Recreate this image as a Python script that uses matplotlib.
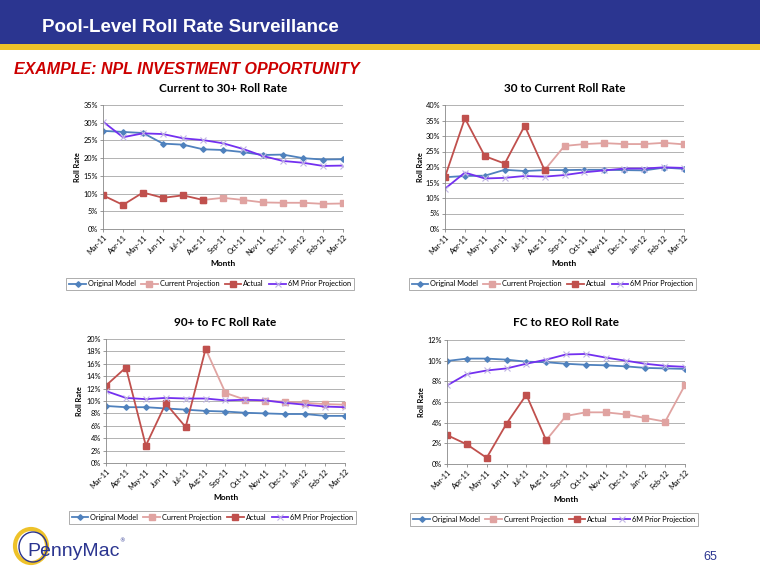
import matplotlib.pyplot as plt
from matplotlib.patches import Rectangle, Ellipse
from matplotlib.ticker import PercentFormatter

months = ['Mar-11', 'Apr-11', 'May-11', 'Jun-11', 'Jul-11', 'Aug-11', 'Sep-11',
          'Oct-11', 'Nov-11', 'Dec-11', 'Jan-12', 'Feb-12', 'Mar-12']

# Current to 30+
c30_original = [27.7, 27.4, 27.1, 24.1, 23.8, 22.5, 22.3, 21.7, 20.9, 21.0, 20.0, 19.6, 19.7]
c30_prior6m = [30.3, 25.9, 27.0, 26.8, 25.6, 25.1, 24.2, 22.6, 20.6, 19.2, 18.7, 17.8, 17.9]
c30_actual = [9.5, 6.8, 10.3, 8.8, 9.5, 8.2]
c30_current = [8.2, 8.8, 8.2, 7.5, 7.4, 7.4, 7.1, 7.2]

# 30 to Current
r30_original = [16.7, 17.1, 17.2, 19.1, 18.7, 19.0, 19.0, 19.1, 19.1, 19.0, 18.9, 19.8, 19.4]
r30_prior6m = [13.0, 18.2, 16.3, 16.5, 17.1, 16.9, 17.4, 18.3, 18.9, 19.5, 19.5, 19.9, 19.7]
r30_actual = [16.8, 35.7, 23.5, 21.1, 33.3, 19.0]
r30_current = [19.0, 26.8, 27.4, 27.7, 27.4, 27.4, 27.8, 27.3]

# 90+ to FC
fc90_original = [9.2, 9.0, 9.0, 8.8, 8.6, 8.4, 8.3, 8.1, 8.0, 7.9, 7.9, 7.6, 7.6]
fc90_prior6m = [11.6, 10.5, 10.3, 10.5, 10.4, 10.4, 10.1, 10.2, 10.1, 9.7, 9.4, 9.1, 9.0]
fc90_actual = [12.5, 15.4, 2.8, 9.6, 5.8, 18.4]
fc90_current = [18.4, 11.3, 10.2, 10.0, 9.9, 9.7, 9.5, 9.4]

# FC to REO
reo_original = [9.97, 10.2, 10.2, 10.1, 9.9, 9.85, 9.7, 9.6, 9.55, 9.45, 9.3, 9.25, 9.2]
reo_prior6m = [7.6, 8.7, 9.05, 9.25, 9.7, 10.1, 10.6, 10.65, 10.3, 10.0, 9.7, 9.5, 9.4]
reo_actual = [2.8, 1.9, 0.6, 3.9, 6.7, 2.3]
reo_current = [2.3, 4.65, 5.0, 5.0, 4.8, 4.45, 4.1, 7.65]

blue = '#4F81BD'
pink = '#E0A3A1'
red = '#C0504D'
purple = '#7330F0'
navy = '#2B3590'
font = ['Lato', 'DejaVu Sans']

fig = plt.figure(figsize=(7.6, 5.87), dpi=100)
W, H = 760, 587


def fx(x):
    return x / W


def fy(y):
    return 1 - y / H


# header
fig.patches.append(Rectangle((0, fy(44)), 1, 44 / H, transform=fig.transFigure,
                             facecolor=navy, edgecolor='none'))
fig.patches.append(Rectangle((0, fy(50)), 1, 6 / H, transform=fig.transFigure,
                             facecolor='#EEC22A', edgecolor='none'))
fig.text(fx(42), fy(27), 'Pool-Level Roll Rate Surveillance', color='white',
         fontsize=13.5, fontweight='bold', family='Liberation Sans', va='center')
fig.text(fx(14), fy(70), 'EXAMPLE: NPL INVESTMENT OPPORTUNITY', color='#CC0000',
         fontsize=11.5, fontweight='bold', style='italic', family='Liberation Sans',
         va='center')

charts = [
    ('Current to 30+ Roll Rate', c30_original, c30_current, c30_actual, c30_prior6m,
     35, 5, (103, 105, 343, 229), 78, 263, (67, 276, 353, 292)),
    ('30 to Current Roll Rate', r30_original, r30_current, r30_actual, r30_prior6m,
     40, 5, (445, 105, 684, 229), 420, 263, (410, 276, 695, 292)),
    ('90+ to FC Roll Rate', fc90_original, fc90_current, fc90_actual, fc90_prior6m,
     20, 2, (106, 339, 345, 463), 80, 497, (71, 510, 354, 525)),
    ('FC to REO Roll Rate', reo_original, reo_current, reo_actual, reo_prior6m,
     12, 2, (447, 340, 685, 464), 421, 499, (412, 512, 696, 527)),
]

x = list(range(len(months)))
for title, orig, cur, act, prior, ymax, step, box, ylx, mly, lbox in charts:
    x0, y0, x1, y1 = box
    ax = fig.add_axes([fx(x0), fy(y1), (x1 - x0) / W, (y1 - y0) / H])
    l1, = ax.plot(x, orig, color=blue, lw=1.3, marker='D', ms=2.8, label='Original Model')
    l2, = ax.plot(x[5:], cur, color=pink, lw=1.3, marker='s', ms=4.5,
                  label='Current Projection')
    l3, = ax.plot(x[:6], act, color=red, lw=1.3, marker='s', ms=4.5, label='Actual')
    l4, = ax.plot(x, prior, color=purple, lw=1.3, marker='x', ms=4, mew=0.8,
                  mec='#C0B4E4', label='6M Prior Projection')
    ax.set_xlim(0, 12)
    ax.set_ylim(0, ymax)
    ax.set_yticks(range(0, ymax + 1, step))
    ax.yaxis.set_major_formatter(PercentFormatter(decimals=0))
    ax.set_xticks(x)
    ax.set_xticklabels(months, rotation=45, ha='right', rotation_mode='anchor')
    ax.tick_params(labelsize=5.3, length=2, width=0.6, color='#888888', pad=1.5)
    for t in ax.get_xticklabels() + ax.get_yticklabels():
        t.set_family(font)
    ax.grid(axis='y', color='#A6A6A6', lw=0.6)
    ax.set_axisbelow(True)
    for s in ['top', 'right']:
        ax.spines[s].set_visible(False)
    for s in ['left', 'bottom']:
        ax.spines[s].set_color('#888888')
        ax.spines[s].set_linewidth(0.6)
    fig.text(fx((x0 + x1) / 2), fy(y0 - 17), title, ha='center', va='center',
             fontsize=8.5, fontweight='bold', family=font)
    fig.text(fx(ylx), fy((y0 + y1) / 2), 'Roll Rate', rotation=90, ha='center',
             va='center', fontsize=5.3, fontweight='bold', family=font)
    fig.text(fx((x0 + x1) / 2), fy(mly), 'Month', ha='center', va='center',
             fontsize=6, fontweight='bold', family=font)
    lx0, ly0, lx1, ly1 = lbox
    leg = fig.legend(handles=[l1, l2, l3, l4], loc='center', ncol=4,
                     bbox_to_anchor=(fx((lx0 + lx1) / 2), fy((ly0 + ly1) / 2)),
                     prop={'family': font, 'size': 5.3}, frameon=True, fancybox=False,
                     edgecolor='#888888', handlelength=2.3, columnspacing=0.7,
                     handletextpad=0.25, borderpad=0.4)
    leg.get_frame().set_linewidth(0.6)

# logo
fig.patches.append(Ellipse((fx(31), fy(546)), 32 / W, 34 / H, transform=fig.transFigure,
                           facecolor='none', edgecolor='#EEC22A', lw=3))
fig.patches.append(Ellipse((fx(33), fy(547)), 28 / W, 30 / H, transform=fig.transFigure,
                           facecolor='none', edgecolor=navy, lw=1))
fig.text(fx(27), fy(552), 'PennyMac', color=navy, fontsize=14, family='Liberation Sans',
         va='center')
fig.text(fx(119), fy(541), '®', color=navy, fontsize=4, va='center')
fig.text(fx(710), fy(557), '65', color=navy, fontsize=9, family='Liberation Sans',
         ha='center', va='center')

fig.savefig('out.png', dpi=100)
